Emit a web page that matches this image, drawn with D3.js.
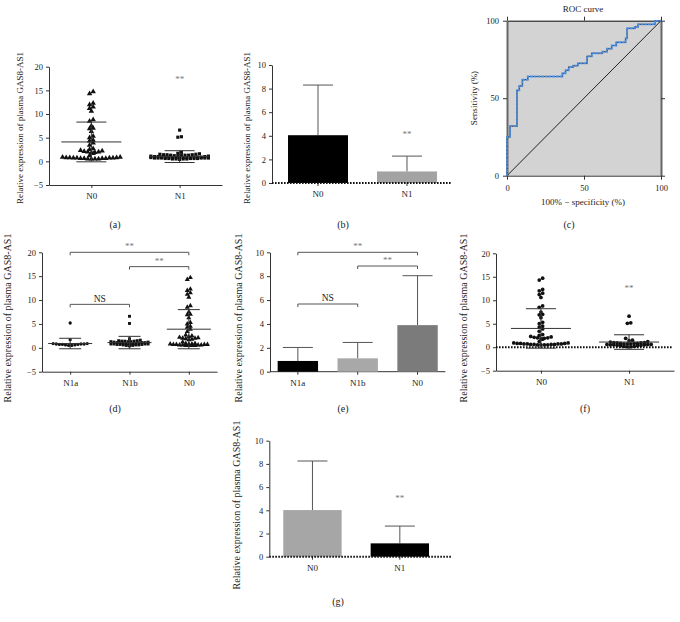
<!DOCTYPE html>
<html><head><meta charset="utf-8">
<script src="https://cdn.jsdelivr.net/npm/d3@7"></script>
<style>body{margin:0;background:#fff}svg{display:block}text{font-family:"Liberation Serif","Times New Roman",serif}</style>
</head><body><svg id="c" width="680" height="622"></svg>
<script>
// ---------------- data ----------------
const N0 = [14.7,14.3,12.3,12.0,11.5,11.2,10.6,8.8,8.5,7.5,7.0,6.9,6.3,5.3,5.0,4.5,4.3,3.9,3.4,2.7,2.5,2.3,2.2,2.1,2.0,2.0,1.9,1.8,1.7,1.2,0.9,0.9,0.8,0.8,0.8,0.7,0.7,0.7,0.7,0.6,0.6,0.6,0.6,0.5,0.5,0.5,0.5];
const N1a = [5.2,1.7,0.9,0.9,0.8,0.8,0.8,0.7,0.7,0.7,0.6,0.6,0.5,0.5];
const N1b = [6.6,5.1,1.9,1.6,1.5,1.5,1.4,1.4,1.4,1.3,1.3,1.3,1.2,1.2,1.1,1.1,1.1,1.0,1.0,1.0,0.9,0.9,0.9,0.9,0.8,0.8,0.8,0.8,0.7,0.7,0.7,0.6,0.6,0.6,0.5,0.5,0.4];
const N1 = N1a.concat(N1b);
const N1f = [6.6,5.2,5.1,1.9,1.5,1.4,1.2,1.1,1.0,1.0,0.9,0.9,0.8,0.8,0.8,0.7,0.7,0.7,0.6,0.6,0.6,0.5,0.5,0.5,0.4,0.4,0.3,0.3,0.2,0.2,0.1,0.1];
const groups2 = ["N0","N1"];
const groups3 = ["N1a","N1b","N0"];
const meanA=[4.1,1.0],  sdA=[4.2,1.25];
const meanB=[4.05,0.98], sdB=[4.25,1.3];
const meanD=[0.9,1.1,3.9], sdD=[1.1,1.3,4.1];
const meanE=[0.9,1.12,3.9], sdE=[1.13,1.33,4.14];
const meanF=[4.0,1.1], sdF=[4.2,1.55];
const meanG=[4.02,1.15], sdG=[4.23,1.49];
const rocFpr=[0,0,2,2,6.5,6.5,8,8,10,10,13.5,13.5,36,36,38,38,40,40,43,43,46,46,52,52,55,55,62,62,65,65,68,68,71,71,77,77,78,78,83,83,85,85,96,96,100];
const rocTpr=[0,25,25,32,32,55,55,58,58,62,62,64,64,66,66,68,68,70,70,71,71,72.5,72.5,77,77,79,79,80,80,82,82,84,84,86,86,88.6,88.6,95,95,96,96,97.6,97.6,99.8,100];
const ticksScatter=[-5,0,5,10,15,20], ticksBar=[0,2,4,6,8,10], ticksRoc=[0,50,100];
const yLabel="Relative expression of plasma GAS8-AS1";

// ---------------- helpers ----------------
const svg=d3.select("#c");
const AX="#333";
function styleAxis(g,fs){
  g.selectAll("path.domain").attr("stroke",AX).attr("stroke-width",1);
  g.selectAll(".tick line").attr("stroke",AX);
  g.selectAll(".tick text").attr("fill","#222").style("font-size",fs+"px").style("font-family",'"Liberation Serif",serif');
}
function yAxisDraw(y,x0,ticks){
  const g=svg.append("g").attr("transform",`translate(${x0},0)`)
    .call(d3.axisLeft(y).tickValues(ticks).tickFormat(d3.format("d")).tickSize(3).tickSizeOuter(0).tickPadding(3));
  styleAxis(g,8.5);
  return g;
}
function yTitle(x,cy,fs,txt){
  svg.append("text").attr("transform",`translate(${x},${cy}) rotate(-90)`).attr("text-anchor","middle")
    .attr("dominant-baseline","middle").style("font-size",fs+"px").attr("fill","#222").text(txt);
}
function caption(x,y,t){
  svg.append("text").attr("x",x).attr("y",y).attr("text-anchor","middle").attr("dominant-baseline","middle")
    .style("font-size","10px").attr("fill","#222").text(t);
}
function stars(x,y){
  svg.append("text").attr("x",x).attr("y",y).attr("text-anchor","middle").attr("dominant-baseline","middle")
    .style("font-size","9px").attr("fill","#777").text("**");
}
function bracket(xa,xb,y,txt){
  svg.append("path").attr("d",`M${xa},${y+3}V${y}H${xb}V${y+3}`).attr("fill","none").attr("stroke","#555").attr("stroke-width",1);
  svg.append("text").attr("x",(xa+xb)/2).attr("y",y-5).attr("text-anchor","middle").attr("dominant-baseline","middle")
    .style("font-size",txt==="NS"?"9.5px":"9px").attr("fill",txt==="NS"?"#222":"#777").text(txt);
}
// row-based scatter layout (GraphPad style)
function swarm(vals,cx,y,d,thr,maxN){
  const pts=vals.map(v=>({v,py:y(v)})).sort((a,b)=>a.v-b.v);
  const rows=[]; let cur=null;
  for(const p of pts){
    if(!cur||cur.y0-p.py>thr||cur.pts.length>=maxN){cur={y0:p.py,pts:[]};rows.push(cur);}
    cur.pts.push(p);
  }
  rows.forEach(r=>{
    const offs=r.pts.map((p,k)=>k===0?0:(k%2?1:-1)*Math.ceil(k/2));
    const m=d3.mean(offs);
    r.pts.forEach((p,k)=>{p.px=cx+(offs[k]-m)*d;});
  });
  return pts;
}
function meanSd(x,y,m,s,hw){
  const g=svg.append("g").attr("stroke","#333").attr("stroke-width",1);
  g.append("line").attr("x1",x-hw).attr("x2",x+hw).attr("y1",y(m)).attr("y2",y(m));
  g.append("line").attr("x1",x-hw/2).attr("x2",x+hw/2).attr("y1",y(m+s)).attr("y2",y(m+s));
  g.append("line").attr("x1",x-hw/2).attr("x2",x+hw/2).attr("y1",y(m-s)).attr("y2",y(m-s));
  g.append("line").attr("x1",x).attr("x2",x).attr("y1",y(m+s)).attr("y2",y(m-s));
}
function dotted(xa,xb,yv){
  svg.append("line").attr("x1",xa).attr("x2",xb).attr("y1",yv).attr("y2",yv)
    .attr("stroke","#111").attr("stroke-width",2).attr("stroke-dasharray","1.6,1.4");
}

// scatter panel
function scatterPanel(o){
  const y=d3.scaleLinear().domain([-5,20]).range([o.yBot,o.yTop]);
  const x=d3.scalePoint().domain(o.groups).range([o.x0,o.x1]).padding(o.pad);
  yAxisDraw(y,o.x0,ticksScatter);
  const gx=svg.append("g").attr("transform",`translate(0,${o.yBot})`)
    .call(d3.axisBottom(x).tickSize(3).tickSizeOuter(0).tickPadding(5));
  styleAxis(gx,9);
  if(o.dotted) dotted(o.x0,o.dotEnd,y(0));
  o.groups.forEach((gname,i)=>{
    const tri=o.shapes[i]===d3.symbolTriangle;
    const sym=d3.symbol().type(o.shapes[i]).size((tri?13:10)*o.ms);
    const pts=swarm(o.data[i],x(gname),y,o.sp,o.thr,o.maxN);
    svg.append("g").selectAll("path").data(pts).join("path")
      .attr("transform",p=>`translate(${p.px},${p.py})`).attr("d",sym()).attr("fill","#111");
  });
  o.groups.forEach((gname,i)=>meanSd(x(gname),y,o.means[i],o.sds[i],o.hw));
  if(o.stars) o.stars.forEach(s=>stars(x(s[0]),y(s[1])));
  if(o.brackets) o.brackets.forEach(b=>bracket(x(b[0]),x(b[1]),y(b[2]),b[3]));
}
// bar panel
function barPanel(o){
  const y=d3.scaleLinear().domain([0,10]).range([o.yBot,o.yTop]);
  const x=d3.scaleBand().domain(o.groups).range([o.x0,o.x1]).paddingInner(o.pi).paddingOuter(o.po);
  yAxisDraw(y,o.x0,ticksBar);
  if(o.solid){
    svg.append("line").attr("x1",o.x0).attr("x2",o.x1).attr("y1",y(0)).attr("y2",y(0)).attr("stroke",AX);
  }
  o.groups.forEach((gname,i)=>{
    const cx=x(gname)+x.bandwidth()/2;
    svg.append("line").attr("x1",cx).attr("x2",cx).attr("y1",y(o.means[i])).attr("y2",y(o.means[i]+o.sds[i])).attr("stroke","#555");
    svg.append("line").attr("x1",cx-15).attr("x2",cx+15).attr("y1",y(o.means[i]+o.sds[i])).attr("y2",y(o.means[i]+o.sds[i])).attr("stroke","#555");
    svg.append("rect").attr("x",x(gname)).attr("width",x.bandwidth()).attr("y",y(o.means[i])).attr("height",y(0)-y(o.means[i])).attr("fill",o.colors[i]);
    svg.append("line").attr("x1",cx).attr("x2",cx).attr("y1",y(0)).attr("y2",y(0)+3).attr("stroke",AX);
    svg.append("text").attr("x",cx).attr("y",y(0)+12).attr("text-anchor","middle").attr("dominant-baseline","middle")
      .style("font-size","9px").attr("fill","#222").text(gname);
  });
  if(!o.solid) dotted(o.x0,o.dotEnd,y(0));
  const c=g=>x(g)+x.bandwidth()/2;
  if(o.stars) o.stars.forEach(s=>stars(c(s[0]),y(s[1])));
  if(o.brackets) o.brackets.forEach(b=>bracket(c(b[0]),c(b[1]),y(b[2]),b[3]));
}

// ---------------- panels ----------------
// (a)
scatterPanel({x0:49,x1:222,yTop:66.7,yBot:185,pad:0.48,groups:groups2,data:[N0,N1],sp:3.6,thr:2.5,maxN:17,ms:1,hw:30,
  shapes:[d3.symbolTriangle,d3.symbolSquare],means:meanA,sds:sdA,stars:[["N1",17.2]]});
yTitle(21,128,9,yLabel); caption(115,226,"(a)");
// (b)
barPanel({x0:272,x1:453,yTop:65,yBot:183,pi:0.326,po:0.18,groups:groups2,means:meanB,sds:sdB,
  colors:["#000","#a3a3a3"],dotEnd:452,stars:[["N1",4.05]]});
yTitle(248,128,9,yLabel); caption(343,226,"(b)");
// (c) ROC
(function(){
  const x=d3.scaleLinear().domain([0,100]).range([507,661]);
  const y=d3.scaleLinear().domain([0,100]).range([175.7,20.7]);
  svg.append("rect").attr("x",x(0)).attr("y",y(100)).attr("width",x(100)-x(0)).attr("height",y(0)-y(100)).attr("fill","#d3d3d3");
  const gb=svg.append("g").attr("transform",`translate(0,${y(0)})`).call(d3.axisBottom(x).tickValues(ticksRoc).tickSize(4).tickSizeOuter(0).tickPadding(5));
  styleAxis(gb,8.5);
  const gt=svg.append("g").attr("transform",`translate(0,${y(100)})`).call(d3.axisTop(x).tickValues(ticksRoc).tickSize(4).tickSizeOuter(0).tickFormat(""));
  styleAxis(gt,8.5); gt.selectAll("path.domain").attr("stroke","#111");
  const gl=svg.append("g").attr("transform",`translate(${x(0)},0)`).call(d3.axisLeft(y).tickValues(ticksRoc).tickSize(4).tickSizeOuter(0).tickPadding(4));
  styleAxis(gl,8.5); gl.selectAll("path.domain").attr("stroke","#666").attr("stroke-width",2);
  const gr=svg.append("g").attr("transform",`translate(${x(100)},0)`).call(d3.axisRight(y).tickValues(ticksRoc).tickSize(4).tickSizeOuter(0).tickFormat(""));
  styleAxis(gr,8.5); gr.selectAll("path.domain").attr("stroke","#666").attr("stroke-width",2);
  svg.append("line").attr("x1",x(0)).attr("y1",y(0)).attr("x2",x(100)).attr("y2",y(100)).attr("stroke","#222").attr("stroke-width",1);
  const pts=rocFpr.map((f,i)=>[x(f),y(rocTpr[i])]);
  svg.append("path").attr("d",d3.line()(pts)).attr("fill","none").attr("stroke","#333").attr("stroke-width",1.2);
  svg.append("path").attr("d",d3.line()(pts)).attr("fill","none").attr("stroke","#4a8de0").attr("stroke-width",1.8).attr("stroke-dasharray","3,0.7");
  svg.append("text").attr("x",583).attr("y",10).attr("text-anchor","middle").attr("dominant-baseline","middle").style("font-size","9px").attr("fill","#222").text("ROC curve");
  svg.append("text").attr("x",583).attr("y",203).attr("text-anchor","middle").attr("dominant-baseline","middle").style("font-size","9px").attr("fill","#222").text("100% − specificity (%)");
  yTitle(475,98,9,"Sensitivity (%)");
  caption(569,226,"(c)");
})();
// (d)
scatterPanel({x0:42,x1:217,yTop:252.3,yBot:371.7,pad:0.475,groups:groups3,data:[N1a,N1b,N0],sp:3.1,thr:2.5,maxN:13,ms:0.85,hw:22,
  shapes:[d3.symbolCircle,d3.symbolSquare,d3.symbolTriangle],means:meanD,sds:sdD,
  brackets:[["N1a","N0",20,"**"],["N1b","N0",17,"**"],["N1a","N1b",9.1,"NS"]]});
yTitle(9,318,10,yLabel); caption(115,410,"(d)");
// (e)
barPanel({x0:270,x1:445.4,yTop:252.3,yBot:371.7,pi:0.325,po:0.128,groups:groups3,means:meanE,sds:sdE,
  colors:["#000","#a8a8a8","#7b7b7b"],solid:true,
  brackets:[["N1a","N0",10,"**"],["N1b","N0",8.85,"**"],["N1a","N1b",5.67,"NS"]]});
yTitle(240,318,10,yLabel); caption(343,410,"(e)");
// (f)
scatterPanel({x0:496,x1:674,yTop:253.3,yBot:370.7,pad:0.51,groups:groups2,data:[N0,N1f],sp:3.4,thr:2.5,maxN:17,ms:1.1,hw:30,
  shapes:[d3.symbolCircle,d3.symbolCircle],means:meanF,sds:sdF,dotted:true,dotEnd:672,stars:[["N1",12.5]]});
yTitle(465,318,10,yLabel); caption(585,410,"(f)");
// (g)
barPanel({x0:269.3,x1:443,yTop:440.7,yBot:556.7,pi:0.332,po:0.16,groups:groups2,means:meanG,sds:sdG,
  colors:["#a6a6a6","#000"],dotEnd:452,stars:[["N1",4.97]]});
yTitle(238,505,10,yLabel); caption(338,603,"(g)");
</script></body></html>
